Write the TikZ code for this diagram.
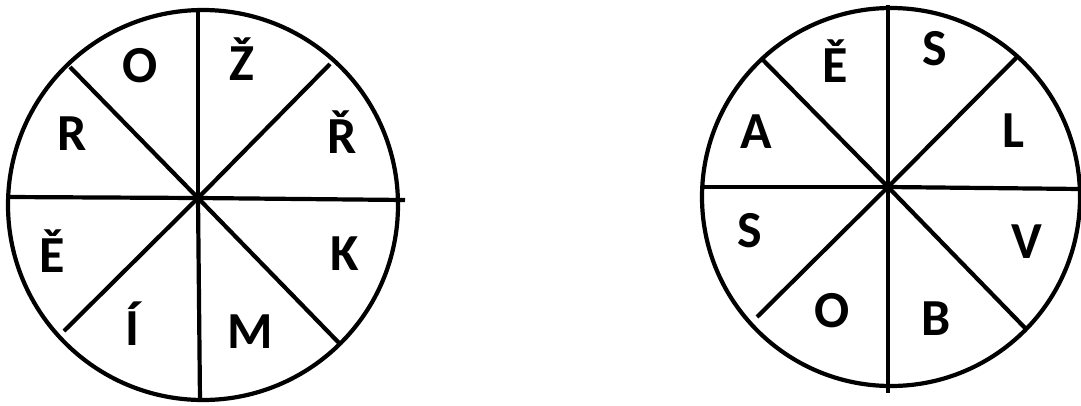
\documentclass[tikz,border=0pt]{standalone}
\usepackage{fontspec}
\setmainfont{Carlito}
\usetikzlibrary{positioning}

\begin{document}
\begin{tikzpicture}[x=1pt, y=-1pt, line width=4.2pt,
  letter/.style={anchor=base, inner sep=0pt, font=\fontsize{52}{52}\selectfont\bfseries}]

  \useasboundingbox (0,0) rectangle (1081,405);

  % left wheel
  \draw (203,205) circle[radius=195pt];
  \coordinate (hubL) at (198,198);
  \coordinate (nL) at (198,10);
  \coordinate (sL) at (200,401);
  \coordinate (wL) at (7,197);
  \coordinate (eL) at (405,200);
  \coordinate (nwL) at (70,67);
  \coordinate (neL) at (330,64);
  \coordinate (swL) at (64,331);
  \coordinate (seL) at (340,344);
  \foreach \e in {nL,sL,wL,eL,nwL,neL,swL,seL}
    \draw (hubL) -- (\e);

  \node[letter] (o1) at (140,82) {O};
  \node[letter] (zc) at (242,80) {Ž};
  \node[letter] (r1) at (72,150) {R};
  \node[letter] (rc) at (342,153) {Ř};
  \node[letter] (ec1) at (52,272) {Ě};
  \node[letter] (k1) at (345,270) {K};
  \node[letter] (ia) at (132,345) {Í};
  \node[letter] (m1) at (250,348) {M};

  % right wheel
  \draw (891,197) circle[radius=189pt];
  \coordinate (hubR) at (888,187);
  \coordinate (nR) at (888,5);
  \coordinate (sR) at (888,393);
  \coordinate (wR) at (703,187);
  \coordinate (eR) at (1081,189);
  \coordinate (nwR) at (763,60);
  \coordinate (neR) at (1017,57);
  \coordinate (swR) at (757,317);
  \coordinate (seR) at (1027,330);
  \foreach \e in {nR,sR,wR,eR,nwR,neR,swR,seR}
    \draw (hubR) -- (\e);

  \node[letter] (ec2) at (835,82) {Ě};
  \node[letter] (s1) at (935,65) {S};
  \node[letter] (a1) at (756,148) {A};
  \node[letter] (l1) at (1013,147) {L};
  \node[letter] (s2) at (750,247) {S};
  \node[letter] (v1) at (1027,258) {V};
  \node[letter] (o2) at (832,327) {O};
  \node[letter] (b1) at (936,335) {B};

\end{tikzpicture}
\end{document}
